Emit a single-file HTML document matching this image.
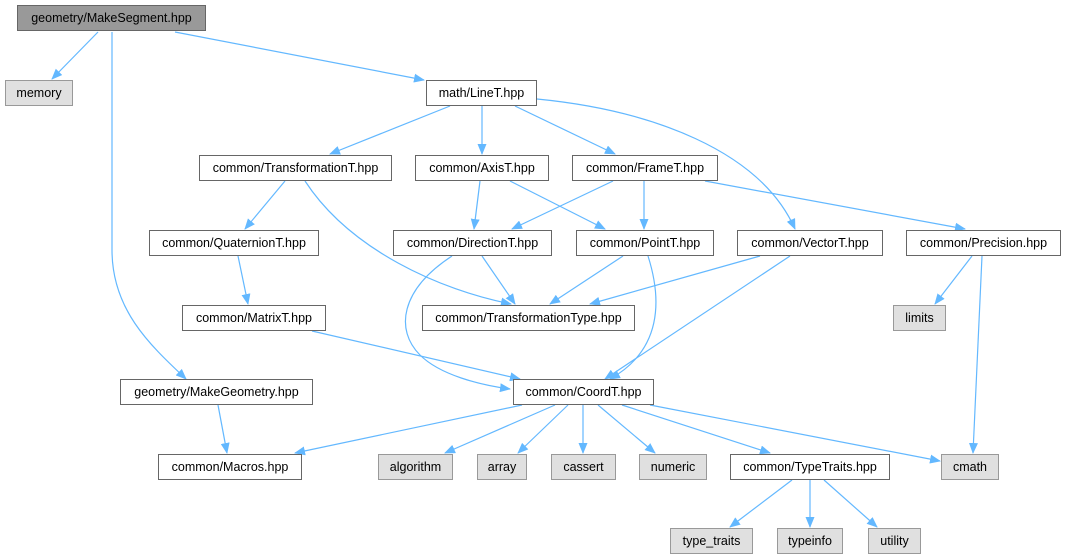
<!DOCTYPE html>
<html><head><meta charset="utf-8"><style>
html,body{margin:0;padding:0;background:#fff;}
.wrap{position:relative;width:1066px;height:560px;overflow:hidden;font-family:"Liberation Sans",sans-serif;}
.n{position:absolute;box-sizing:border-box;height:26px;border:1px solid #666;background:#fff;font-size:12.5px;line-height:24px;text-align:center;color:#000;white-space:nowrap;}
.g{background:#e0e0e0;border-color:#999;}
.m{background:#999;border-color:#666;}
svg{position:absolute;left:0;top:0;}
</style></head><body><div class="wrap">
<svg width="1066" height="560" viewBox="0 0 1066 560">
<defs><marker id="a" markerWidth="11" markerHeight="9" refX="10" refY="4.5" orient="auto" markerUnits="userSpaceOnUse"><path d="M0,0 L11,4.5 L0,9 z" fill="#63b8ff"/></marker></defs>
<g fill="none" stroke="#63b8ff" stroke-width="1.2" marker-end="url(#a)">
<path d="M98,32 L52,79"/>
<path d="M112,32 L112,250 C112,310 150,345 186,379"/>
<path d="M175,32 L424,80"/>
<path d="M450,106 L330,154"/>
<path d="M482,106 L482,154"/>
<path d="M515,106 L615,154"/>
<path d="M537,99 C650,110 760,150 795,229"/>
<path d="M285,181 L245,229"/>
<path d="M305,181 C350,250 440,290 511,304"/>
<path d="M480,181 L474,229"/>
<path d="M510,181 L605,229"/>
<path d="M613,181 L512,229"/>
<path d="M644,181 L644,229"/>
<path d="M705,181 L965,229"/>
<path d="M238,256 L248,304"/>
<path d="M452,256 C400,290 395,330 420,355 C440,375 480,385 510,389"/>
<path d="M482,256 L515,304"/>
<path d="M623,256 L550,304"/>
<path d="M648,256 C662,300 662,350 610,379"/>
<path d="M760,256 L590,304"/>
<path d="M790,256 L605,379"/>
<path d="M972,256 L935,304"/>
<path d="M982,256 L973,453"/>
<path d="M312,331 L520,379"/>
<path d="M218,405 L227,453"/>
<path d="M522,405 L295,453"/>
<path d="M555,405 L445,453"/>
<path d="M568,405 L518,453"/>
<path d="M583,405 L583,453"/>
<path d="M598,405 L655,453"/>
<path d="M622,405 L770,453"/>
<path d="M650,405 L940,461"/>
<path d="M792,480 L730,527"/>
<path d="M810,480 L810,527"/>
<path d="M824,480 L877,527"/>
</g></svg>
<div class="n m" style="left:17px;top:5px;width:189px;">geometry/MakeSegment.hpp</div>
<div class="n g" style="left:5px;top:80px;width:68px;">memory</div>
<div class="n" style="left:426px;top:80px;width:111px;">math/LineT.hpp</div>
<div class="n" style="left:199px;top:155px;width:193px;">common/TransformationT.hpp</div>
<div class="n" style="left:415px;top:155px;width:134px;">common/AxisT.hpp</div>
<div class="n" style="left:572px;top:155px;width:146px;">common/FrameT.hpp</div>
<div class="n" style="left:149px;top:230px;width:170px;">common/QuaternionT.hpp</div>
<div class="n" style="left:393px;top:230px;width:159px;">common/DirectionT.hpp</div>
<div class="n" style="left:576px;top:230px;width:138px;">common/PointT.hpp</div>
<div class="n" style="left:737px;top:230px;width:146px;">common/VectorT.hpp</div>
<div class="n" style="left:906px;top:230px;width:155px;">common/Precision.hpp</div>
<div class="n" style="left:182px;top:305px;width:144px;">common/MatrixT.hpp</div>
<div class="n" style="left:422px;top:305px;width:213px;">common/TransformationType.hpp</div>
<div class="n g" style="left:893px;top:305px;width:53px;">limits</div>
<div class="n" style="left:120px;top:379px;width:193px;">geometry/MakeGeometry.hpp</div>
<div class="n" style="left:513px;top:379px;width:141px;">common/CoordT.hpp</div>
<div class="n" style="left:158px;top:454px;width:144px;">common/Macros.hpp</div>
<div class="n g" style="left:378px;top:454px;width:75px;">algorithm</div>
<div class="n g" style="left:477px;top:454px;width:50px;">array</div>
<div class="n g" style="left:551px;top:454px;width:65px;">cassert</div>
<div class="n g" style="left:639px;top:454px;width:68px;">numeric</div>
<div class="n" style="left:730px;top:454px;width:160px;">common/TypeTraits.hpp</div>
<div class="n g" style="left:941px;top:454px;width:58px;">cmath</div>
<div class="n g" style="left:670px;top:528px;width:83px;">type_traits</div>
<div class="n g" style="left:777px;top:528px;width:66px;">typeinfo</div>
<div class="n g" style="left:868px;top:528px;width:53px;">utility</div>
</div></body></html>
